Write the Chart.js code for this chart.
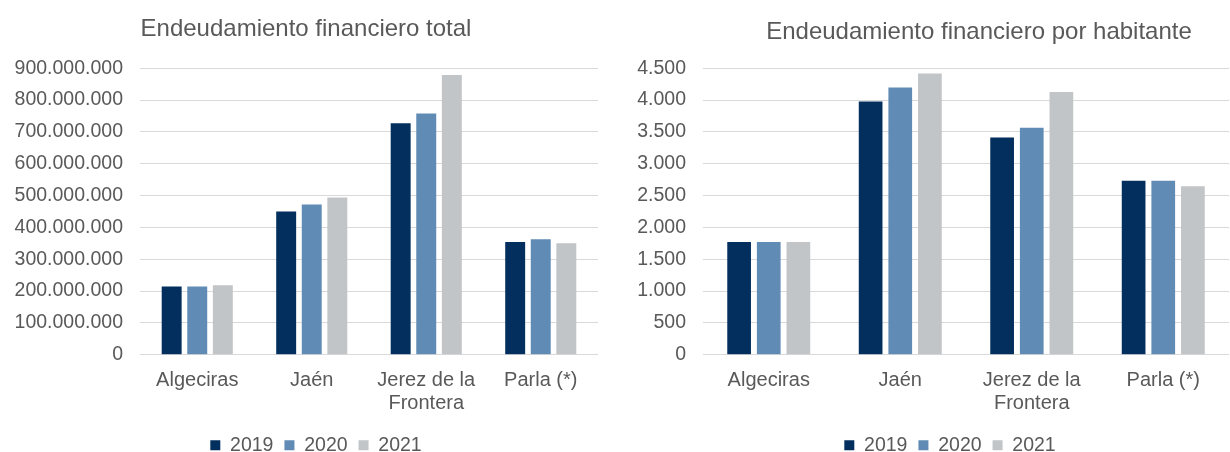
<!DOCTYPE html>
<html>
<head>
<meta charset="utf-8">
<script src="https://cdn.jsdelivr.net/npm/chart.js@4.4.1/dist/chart.umd.min.js"></script>
<style>
  html, body { margin: 0; padding: 0; background: #fff; overflow: hidden; }
  #wrap { position: relative; width: 1230px; height: 452px; }
  #totalChart { position: absolute; left: 0; top: 0; }
  #perCapitaChart { position: absolute; left: 615px; top: 0; }
</style>
</head>
<body>
<div id="wrap">
  <canvas id="totalChart" width="620" height="452"></canvas>
  <canvas id="perCapitaChart" width="615" height="452"></canvas>
</div>
<script>
// ----------------------------
// Data
// ----------------------------
const cities = ["Algeciras", "Jaén", ["Jerez de la", "Frontera"], "Parla (*)"];
const years = ["2019", "2020", "2021"];
const yearColors = ["#032f5e", "#608bb5", "#c1c5c8"];

// Endeudamiento financiero total (euros)
const total2019 = [214000000, 450000000, 727000000, 354000000];
const total2020 = [214000000, 472000000, 758000000, 363000000];
const total2021 = [218000000, 494000000, 879000000, 350000000];
const totalTicks = { max: 900000000, step: 100000000 };

// Endeudamiento financiero por habitante (euros)
const perCap2019 = [1772, 3978, 3413, 2733];
const perCap2020 = [1772, 4197, 3564, 2733];
const perCap2021 = [1772, 4417, 4129, 2645];
const perCapTicks = { max: 4500, step: 500 };

Chart.defaults.font.family = '"Liberation Sans", Arial, sans-serif';
Chart.defaults.color = "#595959";

// thousands with dots, like the Spanish original
function fmt(v) {
  return String(Math.round(v)).replace(/\B(?=(\d{3})+(?!\d))/g, ".");
}

// nudge title / legend sideways (they are not centred on the canvas in the original)
const shiftBoxes = {
  id: "shiftBoxes",
  afterLayout(chart, args, opts) {
    const t = chart.titleBlock, l = chart.legend;
    if (t && opts.title) { t.left += opts.title; t.right += opts.title; }
    if (l && opts.legend) { l.left += opts.legend; l.right += opts.legend; }
  }
};

function makeChart(id, title, series, ticks, layout) {
  const datasets = series.map((data, i) => ({
    label: years[i],
    data: data,
    backgroundColor: yearColors[i],
    borderWidth: 0,
    categoryPercentage: layout.cat,
    barPercentage: layout.bar
  }));

  return new Chart(document.getElementById(id), {
    type: "bar",
    data: { labels: cities, datasets: datasets },
    plugins: [shiftBoxes],
    options: {
      responsive: false,
      animation: false,
      layout: { padding: layout.padding },
      plugins: {
        shiftBoxes: layout.shift,
        tooltip: { enabled: false },
        title: {
          display: true,
          text: title,
          color: "#595959",
          font: { size: 24, weight: "normal" },
          padding: layout.titlePadding
        },
        legend: {
          position: "bottom",
          labels: {
            boxWidth: 10,
            boxHeight: 10,
            padding: 11,
            font: { size: 19.5 }
          }
        }
      },
      scales: {
        x: {
          grid: { display: false, drawTicks: false },
          border: { display: false },
          ticks: { padding: 15, font: { size: 20, lineHeight: 1.12 }, maxRotation: 0, autoSkip: false },
          afterFit: (s) => { s.height -= 5; }
        },
        y: {
          min: 0,
          max: ticks.max,
          grid: { color: "#d9d9d9", lineWidth: 1, drawTicks: false },
          border: { display: false },
          ticks: {
            stepSize: ticks.step,
            padding: 17,
            font: { size: 19.5 },
            callback: (v) => fmt(v)
          },
          afterFit: (s) => { s.width = layout.yWidth; }
        }
      }
    }
  });
}

makeChart("totalChart", "Endeudamiento financiero total",
  [total2019, total2020, total2021], totalTicks,
  {
    padding: { left: 14, right: 22, top: 0, bottom: -13 },
    titlePadding: { top: 15, bottom: 24.5 },
    shift: { title: 0, legend: 10 },
    yWidth: 126,
    cat: 0.67, bar: 0.78
  });

makeChart("perCapitaChart", "Endeudamiento financiero por habitante",
  [perCap2019, perCap2020, perCap2021], perCapTicks,
  {
    padding: { left: 22, right: 1, top: 0, bottom: -13 },
    titlePadding: { top: 17.5, bottom: 22 },
    shift: { title: 46, legend: 17 },
    yWidth: 66,
    cat: 0.676, bar: 0.8
  });
</script>
</body>
</html>
